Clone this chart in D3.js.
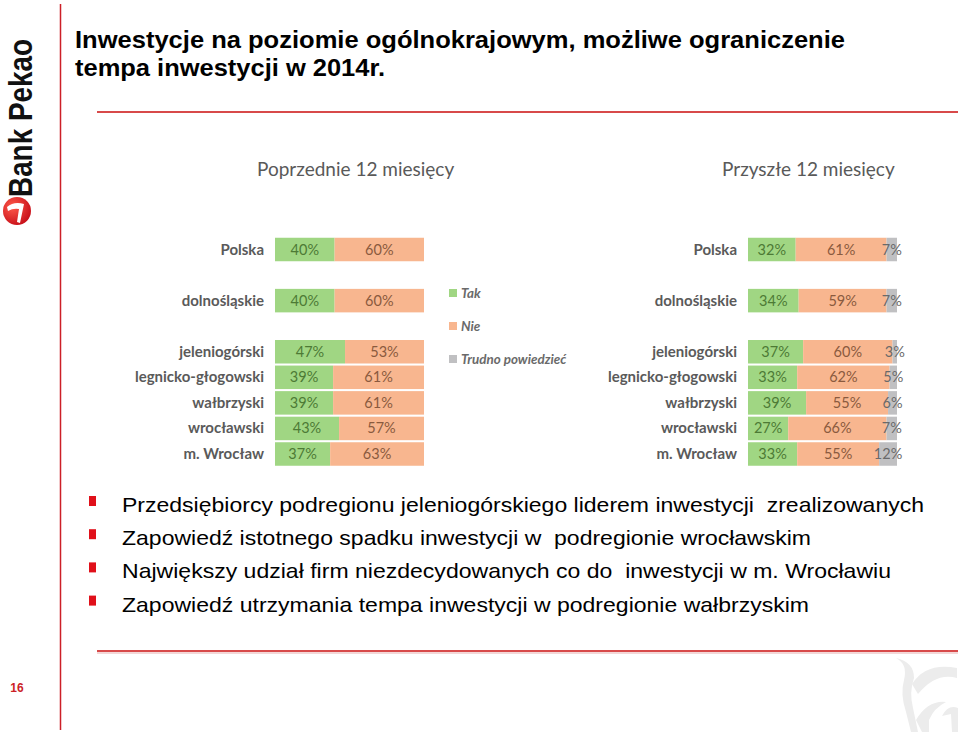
<!DOCTYPE html>
<html><head><meta charset="utf-8">
<script src="https://cdn.jsdelivr.net/npm/d3@7"></script>
<style>
html,body{margin:0;padding:0;background:#fff;}
svg{display:block;}
text{white-space:pre;}
</style></head>
<body>
<svg id="c" width="960" height="734"></svg>
<script>
// ---- data ----
const categories = ["Polska","dolnośląskie","jeleniogórski","legnicko-głogowski","wałbrzyski","wrocławski","m. Wrocław"];
const prevTak = [40,40,47,39,39,43,37];
const prevNie = [60,60,53,61,61,57,63];
const nextTak = [32,34,37,33,39,27,33];
const nextNie = [61,59,60,62,55,66,55];
const nextTrudno = [7,7,3,5,6,7,12];
const seriesNames = ["Tak","Nie","Trudno powiedzieć"];
const panelTitles = ["Poprzednie 12 miesięcy","Przyszłe 12 miesięcy"];
const titleLines = ["Inwestycje na poziomie ogólnokrajowym, możliwe ograniczenie","tempa inwestycji w 2014r."];
const bullets = [
  "Przedsiębiorcy podregionu jeleniogórskiego liderem inwestycji  zrealizowanych",
  "Zapowiedź istotnego spadku inwestycji w  podregionie wrocławskim",
  "Największy udział firm niezdecydowanych co do  inwestycji w m. Wrocławiu",
  "Zapowiedź utrzymania tempa inwestycji w podregionie wałbrzyskim"
];
const pageNumber = "16";

// ---- styles ----
const fillCol = ["#a0d683","#f8b68f","#c0c0c2"];
const textCol = ["#4d7a35","#8a5a3e","#6a6a6a"];
const red = "#cc1f27";
const titleWidths = [770, 310];
const bulletWidths = [802, 689, 769, 687];

const svg = d3.select("#c");

// frame lines
svg.append("line").attr("x1",60.5).attr("x2",60.5).attr("y1",4).attr("y2",730).attr("stroke",red).attr("stroke-width",1.5);
svg.append("line").attr("x1",97).attr("x2",958).attr("y1",112).attr("y2",112).attr("stroke","#d84a4a").attr("stroke-width",2);
svg.append("line").attr("x1",97).attr("x2",958).attr("y1",651).attr("y2",651).attr("stroke","#d84a4a").attr("stroke-width",2);
svg.append("line").attr("x1",97).attr("x2",958).attr("y1",653).attr("y2",653).attr("stroke","#e8b0b0").attr("stroke-width",1);

// logo
const logo = svg.append("g");
logo.append("text").attr("transform","translate(32,197) rotate(-90)")
  .attr("font-family","Liberation Sans, Arial, sans-serif").attr("font-weight","bold")
  .attr("font-size",33).attr("fill","#111").attr("textLength",158).attr("lengthAdjust","spacingAndGlyphs")
  .text("Bank Pekao");
const lg = svg.append("defs").append("radialGradient").attr("id","lg").attr("cx","35%").attr("cy","35%").attr("r","70%");
lg.append("stop").attr("offset","0%").attr("stop-color","#ff5a4a");
lg.append("stop").attr("offset","100%").attr("stop-color","#c8101a");
logo.append("circle").attr("cx",17).attr("cy",211).attr("r",14).attr("fill","url(#lg)");
logo.append("path").attr("d","M7,207 Q14,201 24,204 L20,223 L17,222 L19,209 Q13,208 8,211 Z").attr("fill","#fff");

// page number
svg.append("text").attr("x",17).attr("y",692).attr("text-anchor","middle")
  .attr("font-family","Liberation Sans, Arial, sans-serif").attr("font-weight","bold")
  .attr("font-size",12).attr("fill",red).text(pageNumber);

// watermark
const wm = svg.append("g").attr("fill","#ececec");
wm.append("path").attr("d","M896,658 Q908,664 904,680 Q900,694 906,712 L911,732 L918,732 L913,708 Q909,692 914,678 Q914,662 896,658 Z");
wm.append("path").attr("d","M912,684 Q926,662 957,668 L957,678 Q936,672 918,694 Z");
wm.append("path").attr("d","M916,720 Q928,700 946,702 Q934,708 929,720 L929,732 L922,732 Z");
wm.append("path").attr("d","M942,716 Q948,704 958,708 L958,732 L952,732 L951,714 Z");

// title
svg.append("g").selectAll("text").data(titleLines).join("text")
  .attr("x",75).attr("y",(d,i)=>48+i*28)
  .attr("font-family","Liberation Sans, Arial, sans-serif").attr("font-weight","bold")
  .attr("font-size",24).attr("fill","#000")
  .attr("textLength",(d,i)=>titleWidths[i]).attr("lengthAdjust","spacingAndGlyphs").text(d=>d);

// bullets
const bg = svg.append("g");
bullets.forEach((b,i)=>{
  const yb = 512 + i*33.2;
  bg.append("rect").attr("x",89).attr("y",yb-16).attr("width",7).attr("height",10).attr("fill","#e0101a");
  bg.append("text").attr("x",122).attr("y",yb)
    .attr("font-family","Liberation Sans, Arial, sans-serif")
    .attr("font-size",21).attr("fill","#000")
    .attr("textLength",bulletWidths[i]).attr("lengthAdjust","spacingAndGlyphs").text(b);
});

// charts
const rowPos = i => i < 2 ? i*2 : i+2;
const y = d3.scaleLinear().domain([0,8]).range([249.5,454]);
const barH = 23.5;

function drawPanel(x0, x1, labelX, title, titleX, series){
  const g = svg.append("g");
  const x = d3.scaleLinear().domain([0,100]).range([x0,x1]);
  g.append("text").attr("x",titleX).attr("y",176)
    .attr("font-family","Lato, 'Open Sans', sans-serif").attr("font-size",19).attr("fill","#595959").text(title);
  categories.forEach((c,i)=>{
    const cy = y(rowPos(i));
    g.append("text").attr("x",labelX).attr("y",cy+5).attr("text-anchor","end")
      .attr("font-family","Lato, 'Open Sans', sans-serif").attr("font-weight","bold")
      .attr("font-size",15).attr("fill","#5a5a5a").text(c);
    let cum = 0;
    series.forEach((s,k)=>{
      const v = s[i];
      g.append("rect").attr("x",x(cum)).attr("y",cy-barH/2).attr("width",x(cum+v)-x(cum)).attr("height",barH).attr("fill",fillCol[k]);
      cum += v;
    });
    cum = 0;
    series.forEach((s,k)=>{
      const v = s[i];
      g.append("text").attr("x",(x(cum)+x(cum+v))/2).attr("y",cy+5).attr("text-anchor","middle")
        .attr("font-family","Lato, 'Open Sans', sans-serif").attr("font-size",14.5).attr("fill",textCol[k]).text(v+"%");
      cum += v;
    });
  });
}
drawPanel(275,424,264,panelTitles[0],257,[prevTak,prevNie]);
drawPanel(748,897,737,panelTitles[1],722,[nextTak,nextNie,nextTrudno]);

// legend
const leg = svg.append("g");
seriesNames.forEach((n,k)=>{
  const ly = 293 + k*33;
  leg.append("rect").attr("x",449).attr("y",ly-4).attr("width",8).attr("height",8).attr("fill",fillCol[k]);
  leg.append("text").attr("x",461).attr("y",ly+5)
    .attr("font-family","Lato, 'Open Sans', sans-serif").attr("font-style","italic").attr("font-weight","bold")
    .attr("font-size",13.4).attr("fill","#6a6a6a").text(n);
});
</script>
</body></html>
